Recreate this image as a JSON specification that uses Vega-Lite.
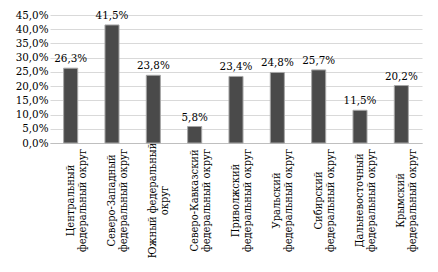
{
  "$schema": "https://vega.github.io/schema/vega-lite/v6.json",
  "width": 372,
  "height": 128,
  "autosize": {"type": "none"},
  "padding": {"left": 50, "top": 15, "right": 16, "bottom": 129},
  "background": "white",
  "config": {
    "locale": {"number": {"decimal": ",", "thousands": " ", "grouping": [3], "currency": ["", ""]}},
    "font": "DejaVu Serif Condensed",
    "view": {"stroke": null}
  },
  "data": {
    "values": [
      {"okrug": "Центральный|федеральный округ", "share": 0.263},
      {"okrug": "Северо-Западный|федеральный округ", "share": 0.415},
      {"okrug": "Южный федеральный|округ", "share": 0.238},
      {"okrug": "Северо-Кавказский|федеральный округ", "share": 0.058},
      {"okrug": "Приволжский|федеральный округ", "share": 0.234},
      {"okrug": "Уральский|федеральный округ", "share": 0.248},
      {"okrug": "Сибирский|федеральный округ", "share": 0.257},
      {"okrug": "Дальневосточный|федеральный округ", "share": 0.115},
      {"okrug": "Крымский|федеральный округ", "share": 0.202}
    ]
  },
  "encoding": {
    "x": {
      "field": "okrug", "type": "nominal", "sort": null, "title": null,
      "scale": {"paddingInner": 0.66, "paddingOuter": 0.33},
      "axis": {
        "labelExpr": "split(datum.label, '|')",
        "labelAngle": -90, "labelAlign": "center", "labelBaseline": "middle",
        "labelPadding": 57, "ticks": false, "labelFontSize": 11, "labelLineHeight": 12,
        "labelColor": "#000", "domainColor": "#bfbfbf", "labelFont": "DejaVu Serif Condensed"
      }
    },
    "y": {
      "field": "share", "type": "quantitative", "title": null,
      "scale": {"domain": [0, 0.45], "nice": false},
      "axis": {
        "format": ".1%", "values": [0, 0.05, 0.1, 0.15, 0.2, 0.25, 0.3, 0.35, 0.4, 0.45],
        "domain": false, "ticks": false, "labelPadding": 2, "labelFontSize": 11.5,
        "labelColor": "#000", "gridColor": "#d9d9d9", "labelFont": "DejaVu Serif Condensed"
      }
    }
  },
  "layer": [
    {"mark": {"type": "bar", "fill": "#4a4a4a", "stroke": "#a6a6a6", "strokeWidth": 1}},
    {
      "mark": {"type": "text", "baseline": "bottom", "dy": -4, "fontSize": 11.5, "color": "#000", "font": "DejaVu Serif Condensed"},
      "encoding": {"text": {"field": "share", "type": "quantitative", "format": ".1%"}}
    }
  ]
}
